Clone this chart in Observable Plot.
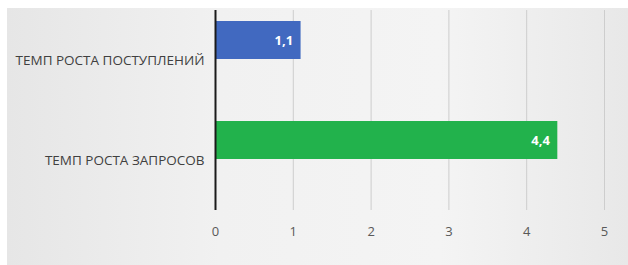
<!DOCTYPE html>
<html><head><meta charset="utf-8">
<script src="https://cdn.jsdelivr.net/npm/d3@7"></script>
<script src="https://cdn.jsdelivr.net/npm/@observablehq/plot@0.6"></script>
<style>
html,body{margin:0;padding:0;background:#fff;}
#chart{width:628px;height:265px;background:
 linear-gradient(to bottom,#fff 0 8px,transparent 8px),
 linear-gradient(to right,#fff 0 7px,transparent 7px),
 linear-gradient(to right,#e6e6e6 7px,#f1f1f1 35%,#f4f4f4 70%,#e8e8e8 100%);}
#chart svg{display:block;}
</style>
</head><body><div id="chart"></div>
<script>
const categories = ["ТЕМП РОСТА ПОСТУПЛЕНИЙ", "ТЕМП РОСТА ЗАПРОСОВ"];
const values = [1.1, 4.4];
const colors = ["#4169c0", "#22b24c"];
const xTicks = [0, 1, 2, 3, 4, 5];
const labels = ["1,1", "4,4"];

const data = categories.map((c, i) => ({cat: c, v: values[i], color: colors[i], label: labels[i]}));

const chart = Plot.plot({
  width: 628, height: 265,
  marginLeft: 215, marginRight: 24, marginTop: 10, marginBottom: 55,
  style: {fontFamily: "'Open Sans', sans-serif", fontSize: "12px", background: "transparent"},
  x: {domain: [0, 5], ticks: xTicks, label: null},
  y: {domain: categories, padding: 0, label: null},
  marks: [
    Plot.ruleX(xTicks.slice(1), {stroke: "#cdcdcd", strokeWidth: 1}),
    Plot.barX(data, {x: "v", y: "cat", fill: "color", insetTop: 11, insetBottom: 51}),
    Plot.text(data, {x: "v", y: "cat", text: "label", dy: -20, dx: -8, textAnchor: "end", fill: "#fff", fontWeight: "bold", fontSize: 13}),
    Plot.ruleX([0], {stroke: "#1a1a1a", strokeWidth: 2}),
    Plot.axisX({ticks: xTicks, tickSize: 0, tickPadding: 16, tickFormat: d => String(d), fill: "#595959", fontSize: 13}),
    Plot.axisY({tickSize: 0, tickPadding: 11, fill: "#404040", fontSize: 13.5})
  ]
});
document.getElementById("chart").appendChild(chart);
</script></body></html>
